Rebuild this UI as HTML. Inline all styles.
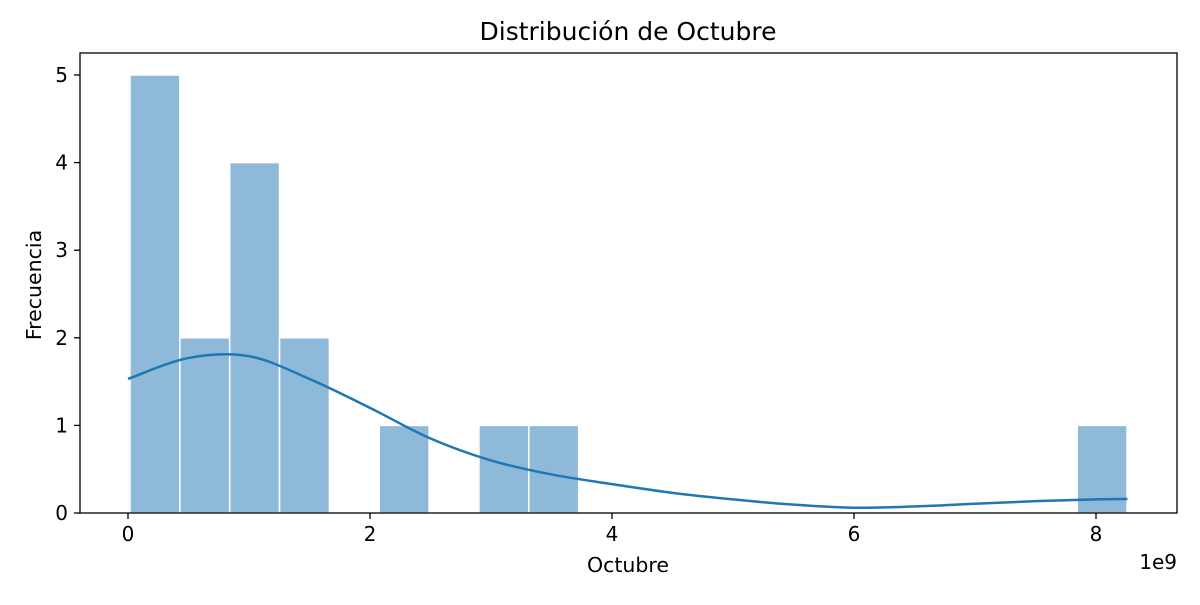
<!DOCTYPE html>
<html><head><meta charset="utf-8"><style>
body{margin:0;background:#fff;font-family:"Liberation Sans","DejaVu Sans",sans-serif;}
svg text{font-family:"DejaVu Sans","Liberation Sans",sans-serif;}
</style></head><body>
<svg id="c" width="1200" height="600">
<rect width="1200" height="600" fill="#fff"/>
<text x="628" y="40" text-anchor="middle" font-size="25">Distribución de Octubre</text>
<g id="bars"></g><g id="kde"></g><g id="axes"></g>
<text x="628" y="572" text-anchor="middle" font-size="20.5">Octubre</text>
<text x="41" y="285" text-anchor="middle" font-size="20.5" transform="rotate(-90 41 285)">Frecuencia</text>
<text x="1177" y="569" text-anchor="end" font-size="20">1e9</text>
</svg>
<script>
const binStart = 0.0165; // in 1e9
const binWidth = 0.412;
const counts = [5,2,4,2,0,1,0,1,1,0,0,0,0,0,0,0,0,0,0,1];
const kdeX = [0.0,0.5,1.0,1.5,2.0,2.5,3.0,3.5,4.0,4.5,5.0,5.5,6.0,6.5,7.0,7.5,8.0,8.26];
const kdeY = [1.53,1.77,1.79,1.53,1.20,0.85,0.60,0.44,0.33,0.23,0.155,0.095,0.06,0.075,0.105,0.135,0.155,0.16];
const xTicks = [0,2,4,6,8];
const yTicks = [0,1,2,3,4,5];
const L=80,R=1177,T=53,B=513;
const sx=v=>128+v*121, sy=v=>B-v*87.6;
const ns="http://www.w3.org/2000/svg";
function mk(p,t,a){const e=document.createElementNS(ns,t);for(const k in a)e.setAttribute(k,a[k]);p.appendChild(e);return e;}
const bars=document.getElementById('bars');
counts.forEach((c,i)=>{if(!c)return;
 const x0=sx(binStart+i*binWidth),x1=sx(binStart+(i+1)*binWidth);
 const r=mk(bars,'rect',{x:x0,y:sy(c),width:x1-x0,height:sy(0)-sy(c),fill:'#8fb9d9',stroke:'#fff','stroke-width':1.5});
 
 
});
const pts=kdeX.map((x,i)=>[sx(x),sy(kdeY[i])]);
let d='M'+pts[0][0]+','+pts[0][1];
for(let i=0;i<pts.length-1;i++){const p0=pts[Math.max(0,i-1)],p1=pts[i],p2=pts[i+1],p3=pts[Math.min(pts.length-1,i+2)];
 d+=` C${p1[0]+(p2[0]-p0[0])/6},${p1[1]+(p2[1]-p0[1])/6} ${p2[0]-(p3[0]-p1[0])/6},${p2[1]-(p3[1]-p1[1])/6} ${p2[0]},${p2[1]}`;}
const k=mk(document.getElementById('kde'),'path',{d:d,fill:'none',stroke:'#1f77b4','stroke-width':2.5});


const ax=document.getElementById('axes');
const fr=mk(ax,'rect',{x:L,y:T,width:R-L,height:B-T,fill:'none',stroke:'#000','stroke-width':1.3});


xTicks.forEach(v=>{mk(ax,'line',{x1:sx(v),x2:sx(v),y1:B,y2:B+6,stroke:'#000','stroke-width':1.3});
 const t=mk(ax,'text',{x:sx(v),y:B+28,'text-anchor':'middle','font-size':20});t.textContent=v;
 
 });
yTicks.forEach(v=>{mk(ax,'line',{x1:L-6,x2:L,y1:sy(v),y2:sy(v),stroke:'#000','stroke-width':1.3});
 const t=mk(ax,'text',{x:L-12,y:sy(v)+7,'text-anchor':'end','font-size':20});t.textContent=v;
 
 });
</script>
</body></html>
